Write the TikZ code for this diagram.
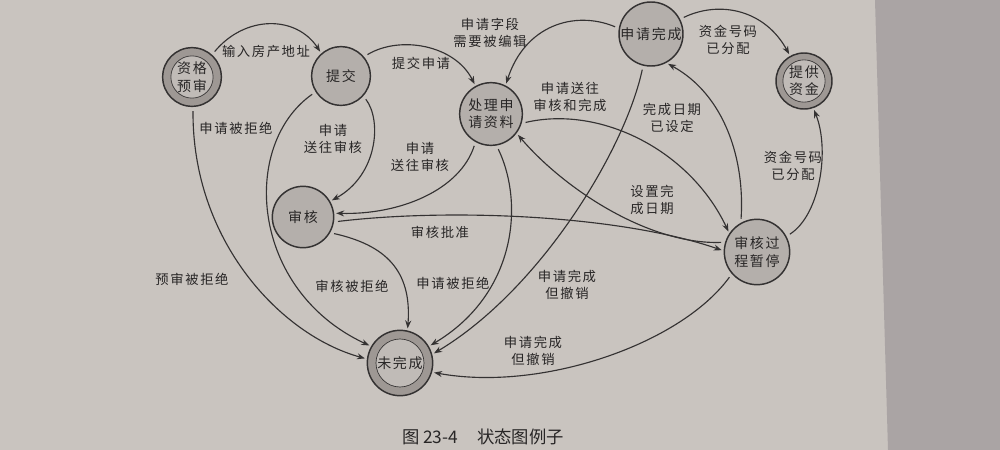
\documentclass[tikz,border=0pt]{standalone}
\usepackage{fontspec}
\newfontfamily\cjk[LetterSpace=12]{Noto Sans CJK SC}
\newfontfamily\capfont{Noto Sans CJK SC}
\usetikzlibrary{arrows.meta}
\definecolor{pagec}{RGB}{201,196,191}
\definecolor{rightc}{RGB}{170,164,164}
\definecolor{nodefill}{RGB}{180,175,171}
\definecolor{ringfill}{RGB}{158,152,148}
\definecolor{innerfill}{RGB}{192,187,183}
\definecolor{linec}{RGB}{52,50,50}
\definecolor{textc}{RGB}{40,38,38}
\begin{document}
\begin{tikzpicture}[x=0.75pt,y=-0.75pt,
  stnode/.style={circle, draw=linec, line width=1.1pt, fill=nodefill, minimum size=#1, inner sep=0pt,
    text=textc, font=\cjk\fontsize{10.5}{13}\selectfont, align=center},
  ring/.style={circle, draw=linec, line width=1.1pt, fill=ringfill, minimum size=#1, inner sep=0pt},
  inner/.style={circle, draw=linec, line width=0.5pt, fill=innerfill, minimum size=#1, inner sep=0pt,
    text=textc, font=\cjk\fontsize{10.5}{13}\selectfont, align=center},
  conn/.style={draw=linec, line width=0.85pt, -{Stealth[length=6pt,width=4.5pt]}, shorten <=3pt, shorten >=1.5pt},
  lab/.style={font=\cjk\fontsize{10}{12.75}\selectfont, align=center, text=textc, inner sep=0pt}
]
\useasboundingbox (0,0) rectangle (1000,450);
\fill[pagec] (0,0) rectangle (1000,450);
\fill[rightc] (875,0) -- (1000,0) -- (1000,450) -- (888,450) -- cycle;

% states
\node[ring=44pt] (zq) at (192,77) {};
\node[inner=30pt] (zqi) at (192,77) {资格\\预审};
\node[stnode=44pt] (tj) at (341,76) {提交};
\node[stnode=47pt] (cl) at (491,114) {处理申\\请资料};
\node[stnode=48pt] (wc) at (651,34) {申请完成};
\node[ring=42pt] (tg) at (804,81) {};
\node[inner=30pt] (tgi) at (804,81) {提供\\资金};
\node[stnode=46pt] (sh) at (303,217) {审核};
\node[stnode=49pt] (zt) at (757,252) {审核过\\程暂停};
\node[ring=49pt] (wwc) at (400,363) {};
\node[inner=36pt] (wwci) at (400,363) {未完成};

% transitions
\draw[conn] (zq.48) .. controls (245,15) and (296,15) .. (tj.131);
\draw[conn] (tj.40) .. controls (400,35) and (455,45) .. (cl.119);
\draw[conn] (tj.-42) .. controls (382,120) and (378,175) .. (sh.30);
\draw[conn] (zq.-88) .. controls (192,240) and (280,335) .. (wwc.173);
\draw[conn] (tj.212) .. controls (240,145) and (250,290) .. (wwc.150);
\draw[conn] (cl.241) .. controls (460,190) and (400,215) .. (sh.7);
\draw[conn] (sh.-9) .. controls (450,208) and (620,215) .. (zt.178);
\draw[conn] (sh.-30) .. controls (385,245) and (412,270) .. (wwc.77);
\draw[conn] (cl.-80) .. controls (525,205) and (515,295) .. (wwc.30);
\draw[conn] (wc.256) .. controls (625,150) and (540,290) .. (wwc.15);
\draw[conn] (zt.221) .. controls (680,345) and (540,392) .. (wwc.-16);
\draw[conn] (wc.170) .. controls (575,10) and (525,25) .. (cl.63);
\draw[conn] (wc.27) .. controls (720,0) and (765,10) .. (tg.119);
\draw[conn] (zt.119) .. controls (745,160) and (725,95) .. (wc.-62);
\draw[conn] (zt.28) .. controls (820,215) and (830,150) .. (tg.-71);
\draw[conn] (cl.-17) .. controls (600,105) and (690,150) .. (zt.146);
\draw[conn] (zt.163) .. controls (650,245) and (565,190) .. (cl.-37);

% labels
\node[lab] (l1) at (266,51) {输入房产地址};
\node[lab] (l2) at (421,63) {提交申请};
\node[lab] (l3) at (333,139) {申请\\送往审核};
\node[lab] (l4) at (192,279) {预审被拒绝};
\node[lab] (l5) at (236,128) {申请被拒绝};
\node[lab] (l6) at (420,157) {申请\\送往审核};
\node[lab] (l7) at (440,232) {审核批准};
\node[lab] (l8) at (352,286) {审核被拒绝};
\node[lab] (l9) at (453,283) {申请被拒绝};
\node[lab] (l10) at (567,285) {申请完成\\但撤销};
\node[lab] (l11) at (533,351) {申请完成\\但撤销};
\node[lab] (l12) at (490,33) {申请字段\\需要被编辑};
\node[lab] (l13) at (728,40) {资金号码\\已分配};
\node[lab] (l14) at (672,118) {完成日期\\已设定};
\node[lab] (l15) at (793,166) {资金号码\\已分配};
\node[lab] (l16) at (570,97) {申请送往\\审核和完成};
\node[lab] (l17) at (652,200) {设置完\\成日期};

\node[font=\capfont\fontsize{13}{15}\selectfont, text=textc, inner sep=0pt] (cap) at (483,437) {图 23-4\hspace{1.1em}状态图例子};
\end{tikzpicture}
\end{document}
